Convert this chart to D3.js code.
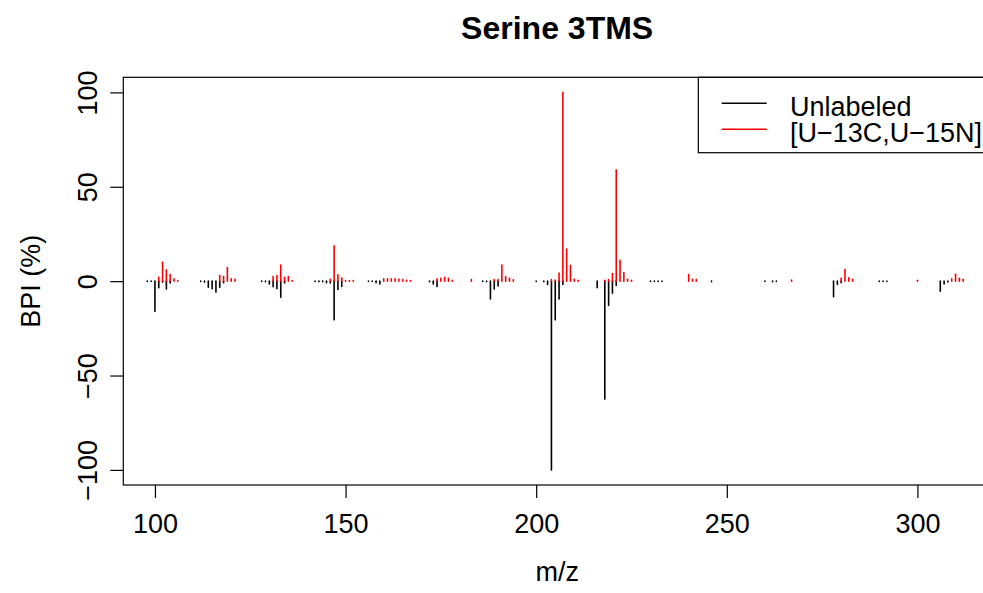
<!DOCTYPE html>
<html lang="en">
<head>
    <meta charset="UTF-8">
    <title>Serine 3TMS</title>
    <script src="https://d3js.org/d3.v7.min.js"></script>
    <style>
        body {
            margin: 0;
            background: #fff;
            font-family: "Liberation Sans", Arial, sans-serif;
        }
        svg { display: block; }
    </style>
</head>
<body>
    <div id="chart"></div>
    <script>
        // Unlabeled spectrum (plotted downwards), m/z and BPI %
        const unlabeledMz  = [98, 99, 100, 101, 102, 103, 104,
                              112, 113, 114, 115, 116, 117, 118,
                              128, 129, 130, 131, 132, 133, 134,
                              142, 143, 144, 145, 146, 147, 148, 149,
                              156, 157, 158, 159,
                              172, 173, 174,
                              186, 187, 188, 189, 190,
                              200, 202, 203, 204, 205, 206, 207,
                              216, 218, 219, 220, 221,
                              230, 231, 232, 233, 246, 260, 262, 263,
                              278, 279, 280, 290, 291, 292, 306, 307, 308];
        const unlabeledInt = [0.2, 0.2, 16, 3.5, 0.5, 4.1, 1.0,
                              0.2, 0.5, 3.2, 4.0, 5.8, 3.2, 0.8,
                              0.2, 0.3, 1.5, 3.0, 4.0, 8.5, 1.0,
                              0.2, 0.3, 0.3, 0.8, 1.0, 20.5, 4.4, 2.8,
                              0.2, 0.2, 0.8, 1.5,
                              0.3, 1.5, 2.8,
                              0.2, 0.3, 9.4, 4.1, 2.6,
                              0.2, 0.3, 1.8, 100, 20.5, 9.4, 1.8,
                              3.5, 62.5, 12.9, 6.4, 2.3,
                              0.2, 0.2, 0.2, 0.2, 0.3, 0.2, 0.3, 0.2,
                              8.3, 1.8, 0.8, 0.2, 0.2, 0.2, 5.3, 1.5, 0.4];

        // [U-13C,U-15N] labeled spectrum (plotted upwards)
        const labeledMz  = [101, 102, 103, 104, 105, 106,
                            117, 118, 119, 120, 121,
                            131, 132, 133, 134, 135, 136,
                            146, 147, 148, 149, 150, 151, 152,
                            160, 161, 162, 163, 164, 165, 166, 167,
                            174, 175, 176, 177, 178, 183,
                            189, 190, 191, 192, 193, 194,
                            204, 205, 206, 207, 208, 209, 210, 211,
                            218, 219, 220, 221, 222, 223, 224, 225,
                            240, 241, 242, 267,
                            280, 281, 282, 283, 300, 309, 310, 311, 312];
        const labeledInt = [2.0, 10, 6.0, 3.5, 1.2, 0.3,
                            3.0, 2.5, 7.2, 1.2, 1.0,
                            2.5, 3.0, 8.5, 2.0, 2.5, 0.3,
                            1.0, 18.7, 3.4, 1.6, 0.3, 0.3, 0.3,
                            1.2, 1.2, 1.2, 1.2, 1.0, 0.8, 0.5, 0.3,
                            1.2, 1.5, 2.0, 1.5, 0.4, 0.8,
                            0.8, 0.8, 8.5, 2.5, 1.5, 0.7,
                            0.8, 0.6, 4.3, 100, 17, 8.2, 1.0, 0.5,
                            0.5, 0.8, 4.0, 59, 11, 4.6, 1.0, 0.5,
                            3.5, 1.0, 0.8, 0.6,
                            1.5, 6.2, 1.8, 1.0, 0.5, 1.2, 3.6, 1.5, 1.0];

        const xTicks = [100, 150, 200, 250, 300];
        const yTicks = [-100, -50, 0, 50, 100];
        const seriesNames = ["Unlabeled", "[U\u221213C,U\u221215N]"];
        const seriesColors = ["black", "red"];

        const unlabeled = unlabeledMz.map((m, i) => ({ mz: m, v: -unlabeledInt[i] }));
        const labeled = labeledMz.map((m, i) => ({ mz: m, v: labeledInt[i] }));

        const width = 983, height = 593;
        const plot = { left: 123.3, right: 991, top: 77.3, bottom: 485 };

        const svg = d3.select("#chart")
            .append("svg")
            .attr("width", width)
            .attr("height", height);

        svg.append("rect")
            .attr("width", width)
            .attr("height", height)
            .attr("fill", "#fff");

        // Scales (R style: 4% padding around the range)
        const x = d3.scaleLinear()
            .domain([91.7, 319.3])
            .range([plot.left, plot.right]);

        const y = d3.scaleLinear()
            .domain([-108, 108])
            .range([plot.bottom, plot.top]);

        // Spectra, drawn as vertical sticks (type = "h")
        function sticks(data, color) {
            svg.append("g")
                .selectAll("line")
                .data(data)
                .enter()
                .append("line")
                .attr("x1", d => x(d.mz))
                .attr("x2", d => x(d.mz))
                .attr("y1", y(0))
                .attr("y2", d => y(d.v))
                .attr("stroke", color)
                .attr("stroke-width", 1.6)
                .attr("stroke-linecap", "round");
        }
        sticks(unlabeled, seriesColors[0]);
        sticks(labeled, seriesColors[1]);

        // Axes
        const xAxis = svg.append("g")
            .attr("transform", `translate(0, ${plot.bottom})`)
            .call(d3.axisBottom(x).tickValues(xTicks).tickSize(13).tickPadding(20));
        xAxis.select(".domain").remove();
        xAxis.selectAll("line").attr("stroke", "#000").attr("stroke-width", 1.2);
        xAxis.selectAll("text")
            .attr("dy", null)
            .attr("y", 48)
            .attr("fill", "#000")
            .style("font-size", "27px")
            .style("font-family", "Liberation Sans, Arial, sans-serif");

        const yAxis = svg.append("g")
            .attr("transform", `translate(${plot.left}, 0)`)
            .call(d3.axisLeft(y).tickValues(yTicks).tickSize(13)
                .tickFormat(d => d < 0 ? "\u2212" + Math.abs(d) : d));
        yAxis.select(".domain").remove();
        yAxis.selectAll("line").attr("stroke", "#000").attr("stroke-width", 1.2);
        yAxis.selectAll("text")
            .attr("x", null)
            .attr("dy", null)
            .attr("text-anchor", "middle")
            .attr("transform", "translate(-26.6, 0) rotate(-90)")
            .attr("fill", "#000")
            .style("font-size", "27px")
            .style("font-family", "Liberation Sans, Arial, sans-serif");

        // Plot box
        svg.append("rect")
            .attr("x", plot.left)
            .attr("y", plot.top)
            .attr("width", plot.right - plot.left)
            .attr("height", plot.bottom - plot.top)
            .attr("fill", "none")
            .attr("stroke", "#000")
            .attr("stroke-width", 1.2);

        // Titles
        const cx = (plot.left + plot.right) / 2;
        svg.append("text")
            .attr("x", cx)
            .attr("y", 39)
            .attr("text-anchor", "middle")
            .style("font-size", "32px")
            .style("font-weight", "bold")
            .text("Serine 3TMS");

        svg.append("text")
            .attr("x", cx)
            .attr("y", 581)
            .attr("text-anchor", "middle")
            .style("font-size", "27px")
            .text("m/z");

        svg.append("text")
            .attr("transform", `translate(40, ${(plot.top + plot.bottom) / 2}) rotate(-90)`)
            .attr("text-anchor", "middle")
            .style("font-size", "27px")
            .text("BPI (%)");

        // Legend (top right, partly outside the picture)
        const legend = svg.append("g");
        legend.append("rect")
            .attr("x", 698.3)
            .attr("y", plot.top)
            .attr("width", 320)
            .attr("height", 75.4)
            .attr("fill", "#fff")
            .attr("stroke", "#000")
            .attr("stroke-width", 1.2);

        seriesNames.forEach((name, i) => {
            const ly = 103.3 + i * 26;
            legend.append("line")
                .attr("x1", 721.7)
                .attr("x2", 766.7)
                .attr("y1", ly)
                .attr("y2", ly)
                .attr("stroke", seriesColors[i])
                .attr("stroke-width", 1.6);
            legend.append("text")
                .attr("x", 790)
                .attr("y", ly + 12.4)
                .style("font-size", "27px")
                .text(name);
        });
    </script>
</body>
</html>
